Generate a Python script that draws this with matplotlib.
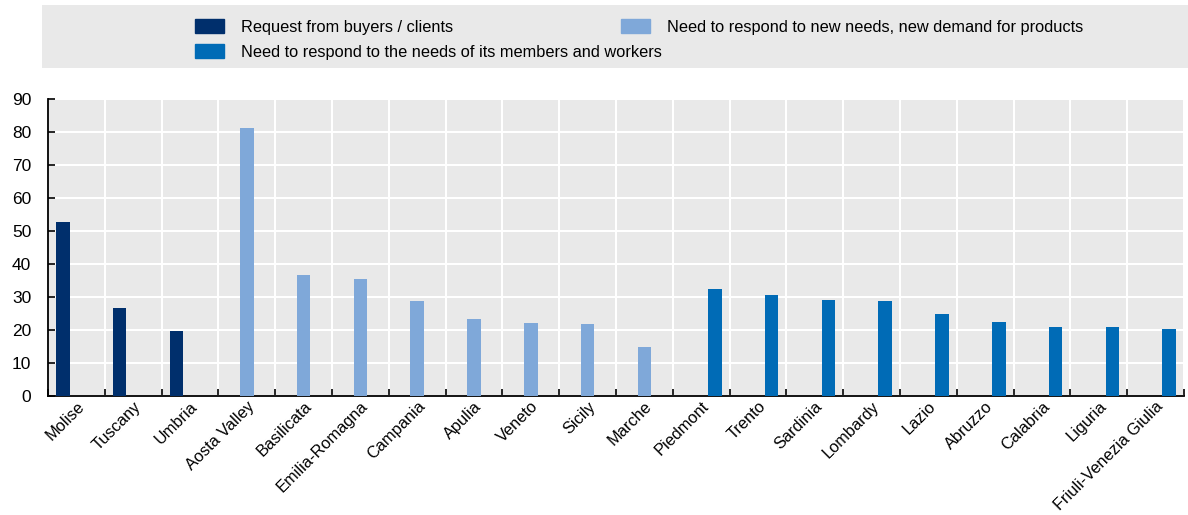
import matplotlib
matplotlib.use('Agg')
import matplotlib.pyplot as plt
import matplotlib.transforms as mtransforms
from matplotlib.patches import Rectangle, Patch
import numpy as np

plt.rcParams['font.family'] = ['Liberation Sans', 'DejaVu Sans']

regions = ['Molise', 'Tuscany', 'Umbria', 'Aosta Valley', 'Basilicata', 'Emilia-Romagna',
           'Campania', 'Apulia', 'Veneto', 'Sicily', 'Marche', 'Piedmont', 'Trento',
           'Sardinia', 'Lombardy', 'Lazio', 'Abruzzo', 'Calabria', 'Liguria',
           'Friuli-Venezia Giulia']

# one value per region, only one series is non-zero for each
buyers = [52.7, 26.7, 19.8, 0, 0, 0, 0, 0, 0, 0, 0, 0, 0, 0, 0, 0, 0, 0, 0, 0]
new_needs = [0, 0, 0, 81.3, 36.8, 35.3, 28.9, 23.4, 22.2, 21.9, 14.9,
             0, 0, 0, 0, 0, 0, 0, 0, 0]
members = [0, 0, 0, 0, 0, 0, 0, 0, 0, 0, 0,
           32.5, 30.7, 29.2, 28.9, 24.9, 22.5, 21.0, 21.0, 20.4]

lab_buyers = 'Request from buyers / clients'
lab_new = 'Need to respond to new needs, new demand for products'
lab_members = 'Need to respond to the needs of its members and workers'

c_dark = '#002F6C'
c_light = '#7FA8D9'
c_mid = '#006BB6'

fig = plt.figure(figsize=(11.88, 5.15), dpi=100)
ax = fig.add_axes([0.0404, 0.231, 0.9562, 0.577])

x = np.arange(len(regions))
w = 0.24
ax.bar(x - w, buyers, w, color=c_dark, zorder=3)
ax.bar(x, new_needs, w, color=c_light, zorder=3)
ax.bar(x + w, members, w, color=c_mid, zorder=3)

ax.set_facecolor('#E9E9E9')
ax.set_xlim(-0.5, len(regions) - 0.5)
ax.set_ylim(0, 90)
ax.set_yticks(np.arange(0, 91, 10))
ax.set_xticks(x)
ax.set_xticklabels(regions, rotation=45, ha='right', rotation_mode='anchor', fontsize=11.8)
shift = mtransforms.ScaledTranslation(-7 / 100, 0, fig.dpi_scale_trans)
for lbl in ax.get_xticklabels():
    lbl.set_transform(lbl.get_transform() + shift)
ax.set_xticks(np.arange(-0.5, len(regions), 1), minor=True)
ax.tick_params(axis='x', which='major', length=0, pad=2)
ax.tick_params(axis='x', which='minor', direction='in', length=5, width=1.2)
ax.tick_params(axis='y', direction='in', length=5, width=1.2, labelsize=12.5, pad=12)
ax.grid(axis='y', color='white', linewidth=1.5, zorder=0)
ax.grid(axis='x', which='minor', color='white', linewidth=1.5, zorder=0)
ax.set_axisbelow(True)
for s in ['top', 'right']:
    ax.spines[s].set_visible(False)
for s in ['left', 'bottom']:
    ax.spines[s].set_linewidth(1.3)

# legend band
fig.patches.append(Rectangle((42 / 1188, 1 - 68 / 515), 1 - 42 / 1188, 63 / 515,
                             transform=fig.transFigure, facecolor='#E9E9E9',
                             edgecolor='none', zorder=0))

fig.legend(handles=[Patch(color=c_dark, label=lab_buyers),
                    Patch(color=c_mid, label=lab_members)],
           loc='upper left', bbox_to_anchor=(187 / 1188, 1 - 11 / 515),
           frameon=False, fontsize=11.8, handlelength=1.75, handleheight=0.9,
           handletextpad=1.05, labelspacing=0.6, borderpad=0)
fig.legend(handles=[Patch(color=c_light, label=lab_new)],
           loc='upper left', bbox_to_anchor=(613 / 1188, 1 - 11 / 515),
           frameon=False, fontsize=11.8, handlelength=1.75, handleheight=0.9,
           handletextpad=1.05, borderpad=0)

fig.savefig('out.png', dpi=100)
